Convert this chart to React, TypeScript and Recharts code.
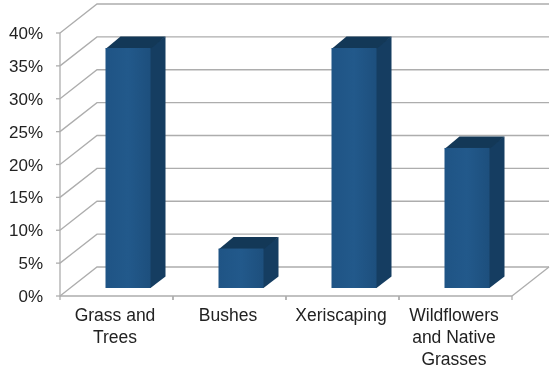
// Faux-3D column chart: share of landscaping choices.
import { BarChart, Bar, XAxis, YAxis, CartesianGrid } from "recharts";

const categories = ["Grass and Trees", "Bushes", "Xeriscaping", "Wildflowers and Native Grasses"];
const shares = [36.5, 6, 36.5, 21.3];
const yTicks = [0, 5, 10, 15, 20, 25, 30, 35, 40];
const tickLines: Record<string, string[]> = {
  "Grass and Trees": ["Grass and", "Trees"],
  Bushes: ["Bushes"],
  Xeriscaping: ["Xeriscaping"],
  "Wildflowers and Native Grasses": ["Wildflowers", "and Native", "Grasses"],
};

const data = categories.map((name, i) => ({ name, share: shares[i] }));

const WIDTH = 552;
const HEIGHT = 369;
const AXIS_W = 60;
const AXIS_H = 30;
const MARGIN = { top: 33, right: 40, bottom: 43, left: 0 };
const BOTTOM = HEIGHT - MARGIN.bottom - AXIS_H;
const STEP = (WIDTH - AXIS_W - MARGIN.right) / categories.length;
const WALL_X = 37;
const WALL_Y = 29;
const BAR_X = 15;
const BAR_Y = 11.5;
const GRID = "#adadad";
const FONT = "'Liberation Sans', Arial, sans-serif";

// One gridline in perspective: floor diagonal, then along the back wall.
function WallLine({ x1, x2, y1 }: any) {
  const isFloor = y1 >= BOTTOM - 1;
  return (
    <g fill="none" stroke={GRID} strokeWidth={1.3}>
      <path d={`M${x1},${y1} L${x1 + WALL_X},${y1 - WALL_Y} L${x2 + WALL_X},${y1 - WALL_Y}`} />
      {isFloor && <path d={`M${x2},${y1} L${x2 + WALL_X},${y1 - WALL_Y}`} />}
    </g>
  );
}

function Bar3D({ x, y, width, height }: any) {
  const left = x + 11.5;
  const right = left + width;
  const top = y - 8;
  const base = top + height;
  return (
    <g>
      {/* side and top run under the front face so no seam shows */}
      <path
        d={`M${right - 2},${top} L${right + BAR_X},${top - BAR_Y} L${right + BAR_X},${base - BAR_Y} L${right},${base} L${right - 2},${base} Z`}
        fill="#153d61"
      />
      <path
        d={`M${left},${top + 1} L${left + BAR_X},${top - BAR_Y} L${right + BAR_X},${top - BAR_Y} L${right},${top + 1} Z`}
        fill="#133857"
      />
      <rect x={left} y={top} width={width} height={height} fill="url(#barFront)" />
    </g>
  );
}

function CategoryTick({ x, payload }: any) {
  const lines = tickLines[payload.value] ?? [payload.value];
  return (
    <g>
      <line x1={x - STEP / 2} x2={x - STEP / 2} y1={BOTTOM} y2={BOTTOM + 4} stroke={GRID} strokeWidth={1.3} />
      <line x1={x + STEP / 2} x2={x + STEP / 2} y1={BOTTOM} y2={BOTTOM + 4} stroke={GRID} strokeWidth={1.3} />
      {lines.map((line, i) => (
        <text key={line} x={x - 1.5} y={321 + i * 22} textAnchor="middle" fontSize={17.5} fontFamily={FONT} fill="#222">
          {line}
        </text>
      ))}
    </g>
  );
}

export default function App() {
  return (
    <div style={{ position: "absolute", left: 0, top: 0, width: WIDTH, height: HEIGHT, filter: "blur(0.6px)" }}>
      <BarChart width={WIDTH} height={HEIGHT} data={data} margin={MARGIN} barCategoryGap={0} barSize={45}>
        <defs>
          <linearGradient id="barFront" x1="0" y1="0" x2="1" y2="0">
            <stop offset="0%" stopColor="#1f5485" />
            <stop offset="50%" stopColor="#22598b" />
            <stop offset="100%" stopColor="#1d4f7d" />
          </linearGradient>
        </defs>
        <CartesianGrid vertical={false} horizontal={(props: any) => <WallLine key={props.key} {...props} />} />
        <XAxis
          dataKey="name"
          height={AXIS_H}
          interval={0}
          tickLine={false}
          axisLine={{ stroke: GRID, strokeWidth: 1.3 }}
          tick={<CategoryTick />}
        />
        <YAxis
          domain={[0, 40]}
          ticks={yTicks}
          width={AXIS_W}
          axisLine={{ stroke: GRID, strokeWidth: 1.3 }}
          tickLine={{ stroke: GRID, strokeWidth: 1.3 }}
          tickSize={4}
          tickMargin={13}
          tickFormatter={(v) => `${v}%`}
          tick={{ fill: "#222", fontSize: 17, fontFamily: FONT }}
        />
        <Bar dataKey="share" shape={<Bar3D />} isAnimationActive={false} />
      </BarChart>
    </div>
  );
}
